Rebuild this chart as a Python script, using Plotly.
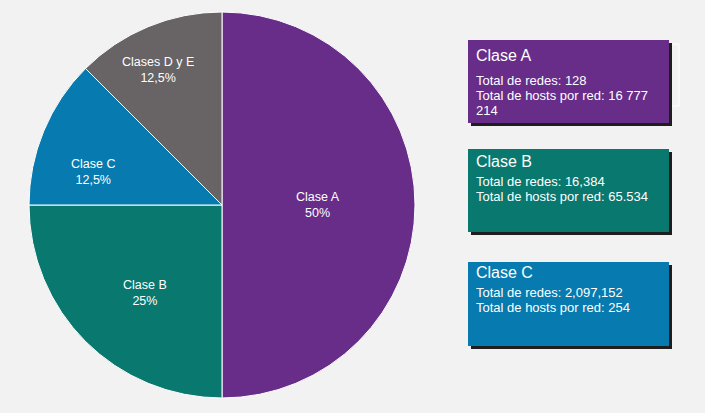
import plotly.graph_objects as go

# ---- data ----
labels = ["Clase A", "Clase B", "Clase C", "Clases D y E"]
values = [50, 25, 12.5, 12.5]
pct_labels = ["50%", "25%", "12,5%", "12,5%"]
slice_colors = ["#672D89", "#09786F", "#077AAF", "#686364"]

box_titles = ["Clase A", "Clase B", "Clase C"]
box_lines = [
    ["Total de redes: 128", "Total de hosts por red: 16 777", "214"],
    ["Total de redes: 16,384", "Total de hosts por red: 65.534"],
    ["Total de redes: 2,097,152", "Total de hosts por red: 254"],
]
box_colors = ["#672D89", "#09786F", "#077AAF"]

W, H = 705, 413
FONT = "Liberation Sans, Arial, sans-serif"

def px(x):
    return x / W

def py(y):
    return 1 - y / H

fig = go.Figure()
fig.add_trace(go.Pie(
    labels=labels,
    values=values,
    textinfo="none",
    sort=False,
    direction="clockwise",
    rotation=0,
    marker=dict(colors=slice_colors, line=dict(color="white", width=1)),
    hoverinfo="label+percent",
    showlegend=False,
    domain=dict(x=[px(29), px(415)], y=[py(398), py(12)]),
))

shapes = []
annotations = []

# slice labels (placed to match reference label positions)
slice_label_xy = [(318, 205), (145, 293), (93, 172), (158, 70)]
for (lx, ly), lab, pct in zip(slice_label_xy, labels, pct_labels):
    annotations.append(dict(xref="paper", yref="paper", x=px(lx), y=py(ly),
                            xanchor="center", yanchor="middle", align="center", showarrow=False,
                            text=f"{lab}<br>{pct}",
                            font=dict(color="white", size=12.5, family=FONT)))

# boxes
box_tops = [40, 149, 262]
box_bottoms = [123, 232, 346]
title_y = [55, 161, 272]
line_y0 = [80, 181, 292]
line_step = 15.5
bx0, bx1 = 468, 669
# faint outline artifact behind box A
shapes.append(dict(type="rect", xref="paper", yref="paper",
                   x0=px(478), x1=px(679), y0=py(106), y1=py(44),
                   line=dict(color="#FFFFFF", width=1), fillcolor="rgba(0,0,0,0)", layer="below"))
for i in range(3):
    t, b = box_tops[i], box_bottoms[i]
    shapes.append(dict(type="rect", xref="paper", yref="paper",
                       x0=px(bx0 + 3), x1=px(bx1 + 3), y0=py(b + 3), y1=py(t + 3),
                       line=dict(width=0), fillcolor="#1E1E1E"))
    shapes.append(dict(type="rect", xref="paper", yref="paper",
                       x0=px(bx0), x1=px(bx1), y0=py(b), y1=py(t),
                       line=dict(width=0), fillcolor=box_colors[i]))
    annotations.append(dict(xref="paper", yref="paper", x=px(474), y=py(title_y[i]),
                            xanchor="left", yanchor="middle", align="left", showarrow=False,
                            text=box_titles[i], font=dict(color="white", size=16, family=FONT)))
    for j, line in enumerate(box_lines[i]):
        annotations.append(dict(xref="paper", yref="paper", x=px(474),
                                y=py(line_y0[i] + j * line_step),
                                xanchor="left", yanchor="middle", align="left", showarrow=False,
                                text=line, font=dict(color="white", size=13, family=FONT)))

fig.update_layout(
    width=W, height=H,
    margin=dict(l=0, r=0, t=0, b=0),
    paper_bgcolor="#F2F2F2",
    plot_bgcolor="#F2F2F2",
    shapes=shapes,
    annotations=annotations,
    font=dict(family=FONT),
)

fig.write_html("out.html", config={"displayModeBar": False},
               post_script="document.body.style.margin='0';")
